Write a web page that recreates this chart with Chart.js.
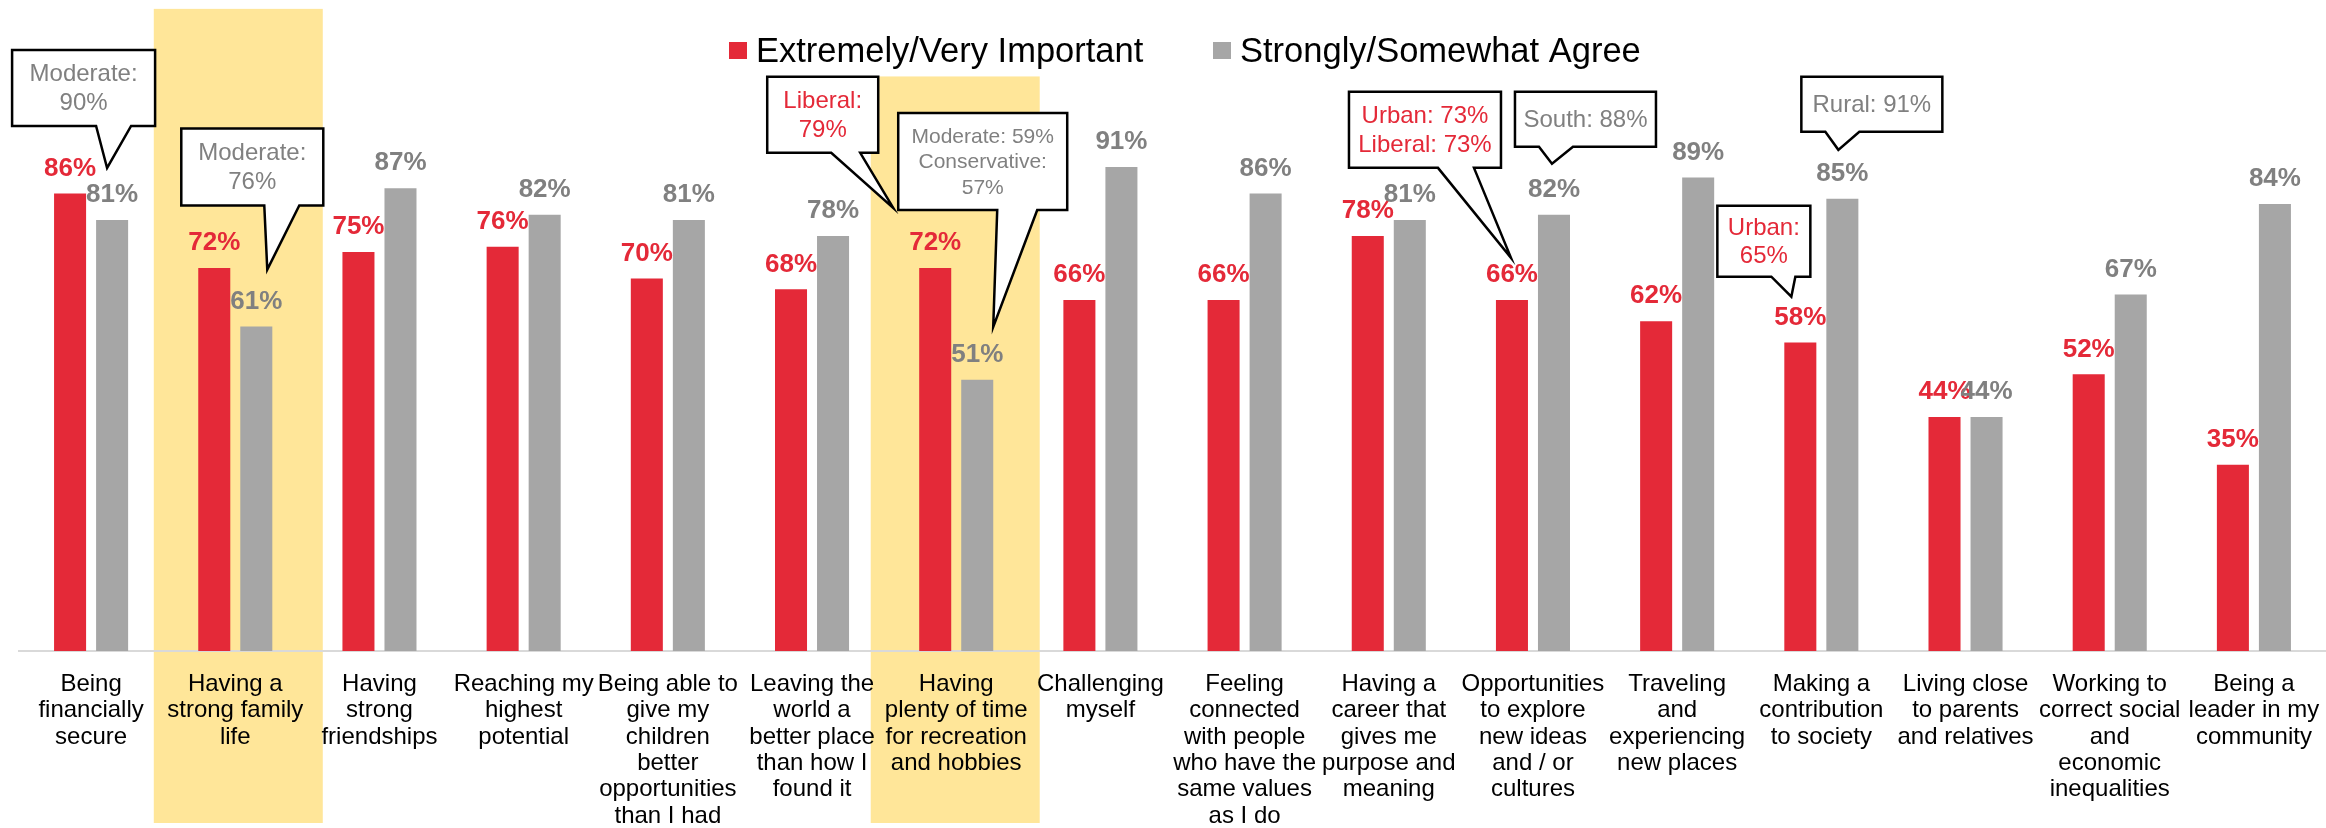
<!DOCTYPE html>
<html>
<head>
<meta charset="utf-8">
<script src="https://cdn.jsdelivr.net/npm/chart.js@4.4.1/dist/chart.umd.min.js"></script>
<style>
  html, body { margin: 0; padding: 0; background: #fff; }
  #wrap { width: 2326px; height: 828px; }
</style>
</head>
<body>
<div id="wrap"><canvas id="valuesChart" width="2326" height="828"></canvas></div>
<script>
const categories = [
    ['Being', 'financially', 'secure'],
    ['Having a', 'strong family', 'life'],
    ['Having', 'strong', 'friendships'],
    ['Reaching my', 'highest', 'potential'],
    ['Being able to', 'give my', 'children', 'better', 'opportunities', 'than I had'],
    ['Leaving the', 'world a', 'better place', 'than how I', 'found it'],
    ['Having', 'plenty of time', 'for recreation', 'and hobbies'],
    ['Challenging', 'myself'],
    ['Feeling', 'connected', 'with people', 'who have the', 'same values', 'as I do'],
    ['Having a', 'career that', 'gives me', 'purpose and', 'meaning'],
    ['Opportunities', 'to explore', 'new ideas', 'and / or', 'cultures'],
    ['Traveling', 'and', 'experiencing', 'new places'],
    ['Making a', 'contribution', 'to society'],
    ['Living close', 'to parents', 'and relatives'],
    ['Working to', 'correct social', 'and', 'economic', 'inequalities'],
    ['Being a', 'leader in my', 'community']
];
const seriesNames = ['Extremely/Very Important', 'Strongly/Somewhat Agree'];
const importantPct = [86, 72, 75, 76, 70, 68, 72, 66, 66, 78, 66, 62, 58, 44, 52, 35];
const agreePct = [81, 61, 87, 82, 81, 78, 51, 91, 86, 81, 82, 89, 85, 44, 67, 84];

// categories with a yellow band behind them
const highlighted = [1, 6];

// subgroup call-outs: text lines and which series colour they use
const calloutText = [
    { lines: ['Moderate:', '90%'], series: 1 },
    { lines: ['Moderate:', '76%'], series: 1 },
    { lines: ['Liberal:', '79%'], series: 0 },
    { lines: ['Moderate: 59%', 'Conservative:', '57%'], series: 1 },
    { lines: ['Urban: 73%', 'Liberal: 73%'], series: 0 },
    { lines: ['South: 88%'], series: 1 },
    { lines: ['Rural: 91%'], series: 1 },
    { lines: ['Urban:', '65%'], series: 0 }
];

const FONT = "'Liberation Sans', Arial, sans-serif";
const RED = '#e42938';
const GREY = '#a6a6a6';
const GREY_TEXT = '#808080';
const textColors = [RED, GREY_TEXT];

// tail tip (category, px nudge, y value), box and tail base in px relative to the tip
const calloutShapes = [
    { cat: 0, dx: 16, at: 90.8, box: [-95, 48, -118, -42], base: [-11, 24] },
    { cat: 1, dx: 32, at: 71.7, box: [-86, 56, -141, -64], base: [-3, 32] },
    { cat: 6, dx: -63, at: 83.3, box: [-126, -15, -131, -55], base: [-62, -33] },
    { cat: 6, dx: 37, at: 60.9, box: [-95, 74, -214, -117], base: [4, 44], size: 21, lh: 25.5 },
    { cat: 10, dx: -22, at: 73.9, box: [-162, -10, -166, -90], base: [-73, -37] },
    { cat: 10, dx: 19, at: 91.6, box: [-37, 104, -72, -17], base: [-13, 21] },
    { cat: 12, dx: 17, at: 94.2, box: [-37, 104, -73, -18], base: [-13, 21] },
    { cat: 12, dx: -30, at: 66.6, box: [-74, 19, -91, -20], base: [-20, 4] }
];

const highlightBands = {
    id: 'highlightBands',
    beforeDraw(chart) {
        const { ctx, scales: { x, y } } = chart;
        const catW = x.width / categories.length;
        const tops = [120.7, 108];
        const nudge = [3, -1];
        ctx.save();
        ctx.fillStyle = '#ffe699';
        highlighted.forEach((i, k) => {
            const cx = x.getPixelForValue(i) + nudge[k];
            const top = y.getPixelForValue(tops[k]);
            ctx.fillRect(cx - catW * 0.586, top, catW * 1.172, chart.height - 5 - top);
        });
        ctx.restore();
    }
};

const valueLabels = {
    id: 'valueLabels',
    afterDatasetsDraw(chart) {
        const { ctx } = chart;
        ctx.save();
        ctx.font = `bold 26px ${FONT}`;
        ctx.textAlign = 'center';
        ctx.textBaseline = 'alphabetic';
        chart.data.datasets.forEach((ds, di) => {
            ctx.fillStyle = textColors[di];
            chart.getDatasetMeta(di).data.forEach((bar, i) => {
                ctx.fillText(ds.data[i] + '%', bar.x, bar.y - 17.7);
            });
        });
        ctx.restore();
    }
};

const callouts = {
    id: 'callouts',
    afterDraw(chart) {
        const { ctx, scales: { x, y } } = chart;
        ctx.save();
        calloutShapes.forEach((s, k) => {
            const tx = x.getPixelForValue(s.cat) + s.dx;
            const ty = y.getPixelForValue(s.at);
            const [l, r, t, b] = s.box;
            ctx.beginPath();
            ctx.moveTo(tx + l, ty + t);
            ctx.lineTo(tx + r, ty + t);
            ctx.lineTo(tx + r, ty + b);
            ctx.lineTo(tx + s.base[1], ty + b);
            ctx.lineTo(tx, ty);
            ctx.lineTo(tx + s.base[0], ty + b);
            ctx.lineTo(tx + l, ty + b);
            ctx.closePath();
            ctx.fillStyle = '#fff';
            ctx.fill();
            ctx.lineWidth = 2.5;
            ctx.lineJoin = 'miter';
            ctx.strokeStyle = '#000';
            ctx.stroke();

            const info = calloutText[k];
            const size = s.size || 24;
            const lh = s.lh || 28.5;
            ctx.font = `${size}px ${FONT}`;
            ctx.fillStyle = textColors[info.series];
            ctx.textAlign = 'center';
            ctx.textBaseline = 'middle';
            const cx = tx + (l + r) / 2;
            const cy = ty + (t + b) / 2 + 1;
            const n = info.lines.length;
            info.lines.forEach((line, j) => {
                ctx.fillText(line, cx, cy + (j - (n - 1) / 2) * lh);
            });
        });
        ctx.restore();
    }
};

const legendRow = {
    id: 'legendRow',
    afterDraw(chart) {
        const { ctx } = chart;
        const swatches = [RED, GREY];
        const starts = [729, 1213];
        ctx.save();
        ctx.font = `34.5px ${FONT}`;
        ctx.textBaseline = 'alphabetic';
        ctx.textAlign = 'left';
        seriesNames.forEach((name, i) => {
            ctx.fillStyle = swatches[i];
            ctx.fillRect(starts[i], 42, 18, 17);
            ctx.fillStyle = '#000';
            ctx.fillText(name, starts[i] + 27, 62);
        });
        ctx.restore();
    }
};

new Chart(document.getElementById('valuesChart'), {
    type: 'bar',
    data: {
        labels: categories,
        datasets: [
            { label: seriesNames[0], data: importantPct, backgroundColor: RED },
            { label: seriesNames[1], data: agreePct, backgroundColor: GREY }
        ]
    },
    options: {
        responsive: false,
        animation: false,
        layout: { autoPadding: false, padding: { left: 19, right: 0, top: 119, bottom: 0 } },
        datasets: { bar: { categoryPercentage: 0.583, barPercentage: 0.762 } },
        scales: {
            x: {
                grid: { display: false, drawTicks: false },
                border: { color: '#d9d9d9', width: 2 },
                ticks: {
                    color: '#000',
                    font: { family: FONT, size: 24, lineHeight: 1.1 },
                    maxRotation: 0,
                    minRotation: 0,
                    autoSkip: false,
                    padding: 20
                },
                afterFit(scale) {
                    // long labels on the last category must not shrink the plot
                    scale.height = 177;
                    scale.paddingLeft = 0;
                    scale.paddingRight = 0;
                }
            },
            y: { display: false, min: 0, max: 100 }
        },
        plugins: { legend: { display: false }, tooltip: { enabled: false } }
    },
    plugins: [highlightBands, valueLabels, callouts, legendRow]
});
</script>
</body>
</html>
